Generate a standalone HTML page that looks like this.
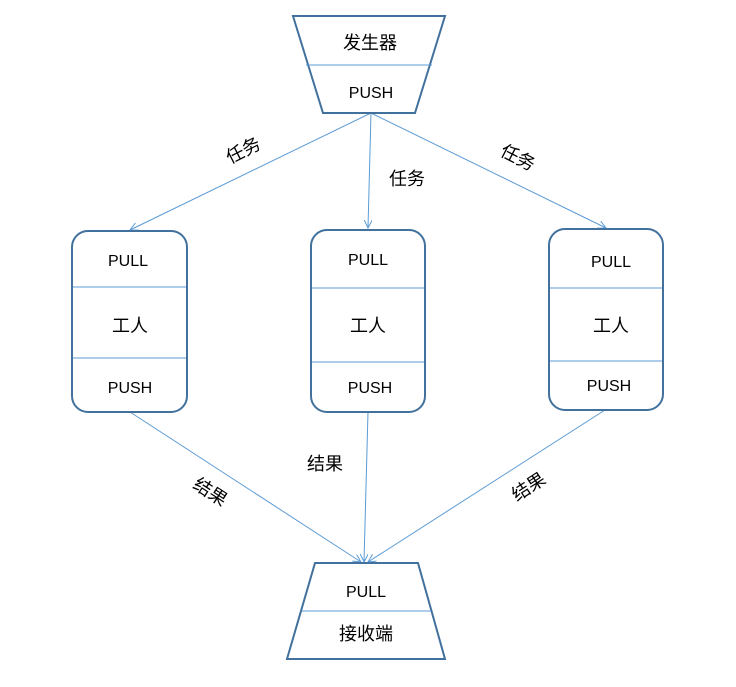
<!DOCTYPE html>
<html><head><meta charset="utf-8"><style>
html,body{margin:0;padding:0;background:#fff;}
svg text{font-family:"Liberation Sans","Noto Sans CJK SC",sans-serif;fill:#000;}
</style></head><body>
<svg width="736" height="682" viewBox="0 0 736 682" xmlns="http://www.w3.org/2000/svg">
<defs>
<marker id="a" markerWidth="10" markerHeight="10" refX="8" refY="4" orient="auto" markerUnits="userSpaceOnUse">
<path d="M0,0 L8,4 L0,8" fill="none" stroke="#5b9bd5" stroke-width="1"/>
</marker>
</defs>
<g stroke="#5b9bd5" stroke-width="1" fill="none" marker-end="url(#a)">
<line x1="371" y1="113" x2="130" y2="230"/>
<line x1="371" y1="113" x2="368" y2="228"/>
<line x1="371" y1="113" x2="606" y2="228"/>
<line x1="130" y1="412" x2="361" y2="562"/>
<line x1="368" y1="412" x2="364" y2="562"/>
<line x1="605" y1="410" x2="368" y2="562"/>
</g>
<g stroke="#41719c" stroke-width="2" fill="#fff">
<polygon points="293,16 445,16 415,113 323,113"/>
<polygon points="315,563 418,563 445,659 287,659"/>
<rect x="72" y="231" width="115" height="181" rx="16"/>
<rect x="311" y="230" width="114" height="182" rx="16"/>
<rect x="549" y="229" width="114" height="181" rx="16"/>
</g>
<g stroke="#5b9bd5" stroke-width="1">
<line x1="306" y1="65" x2="432" y2="65"/>
<line x1="302" y1="611" x2="431" y2="611"/>
<line x1="73" y1="287" x2="186" y2="287"/>
<line x1="73" y1="358" x2="186" y2="358"/>
<line x1="312" y1="288" x2="424" y2="288"/>
<line x1="312" y1="362" x2="424" y2="362"/>
<line x1="550" y1="288" x2="662" y2="288"/>
<line x1="550" y1="361" x2="662" y2="361"/>
</g>
<g font-size="16" text-anchor="middle">
<text x="370" y="49" font-size="18">发生器</text>
<text x="371" y="98">PUSH</text>
<text x="128" y="266">PULL</text>
<text x="130" y="332" font-size="18">工人</text>
<text x="130" y="393">PUSH</text>
<text x="368" y="265">PULL</text>
<text x="368" y="332" font-size="18">工人</text>
<text x="370" y="393">PUSH</text>
<text x="611" y="267">PULL</text>
<text x="611" y="332" font-size="18">工人</text>
<text x="609" y="391">PUSH</text>
<text x="366" y="597">PULL</text>
<text x="366" y="640" font-size="18">接收端</text>
<text x="407" y="185" font-size="18">任务</text>
<text x="325" y="470" font-size="18">结果</text>
<text font-size="18" transform="translate(246,156) rotate(-27)">任务</text>
<text font-size="18" transform="translate(515,163) rotate(27)">任务</text>
<text font-size="18" transform="translate(207,497) rotate(33)">结果</text>
<text font-size="18" transform="translate(532,492) rotate(-33)">结果</text>
</g>
</svg>
</body></html>
